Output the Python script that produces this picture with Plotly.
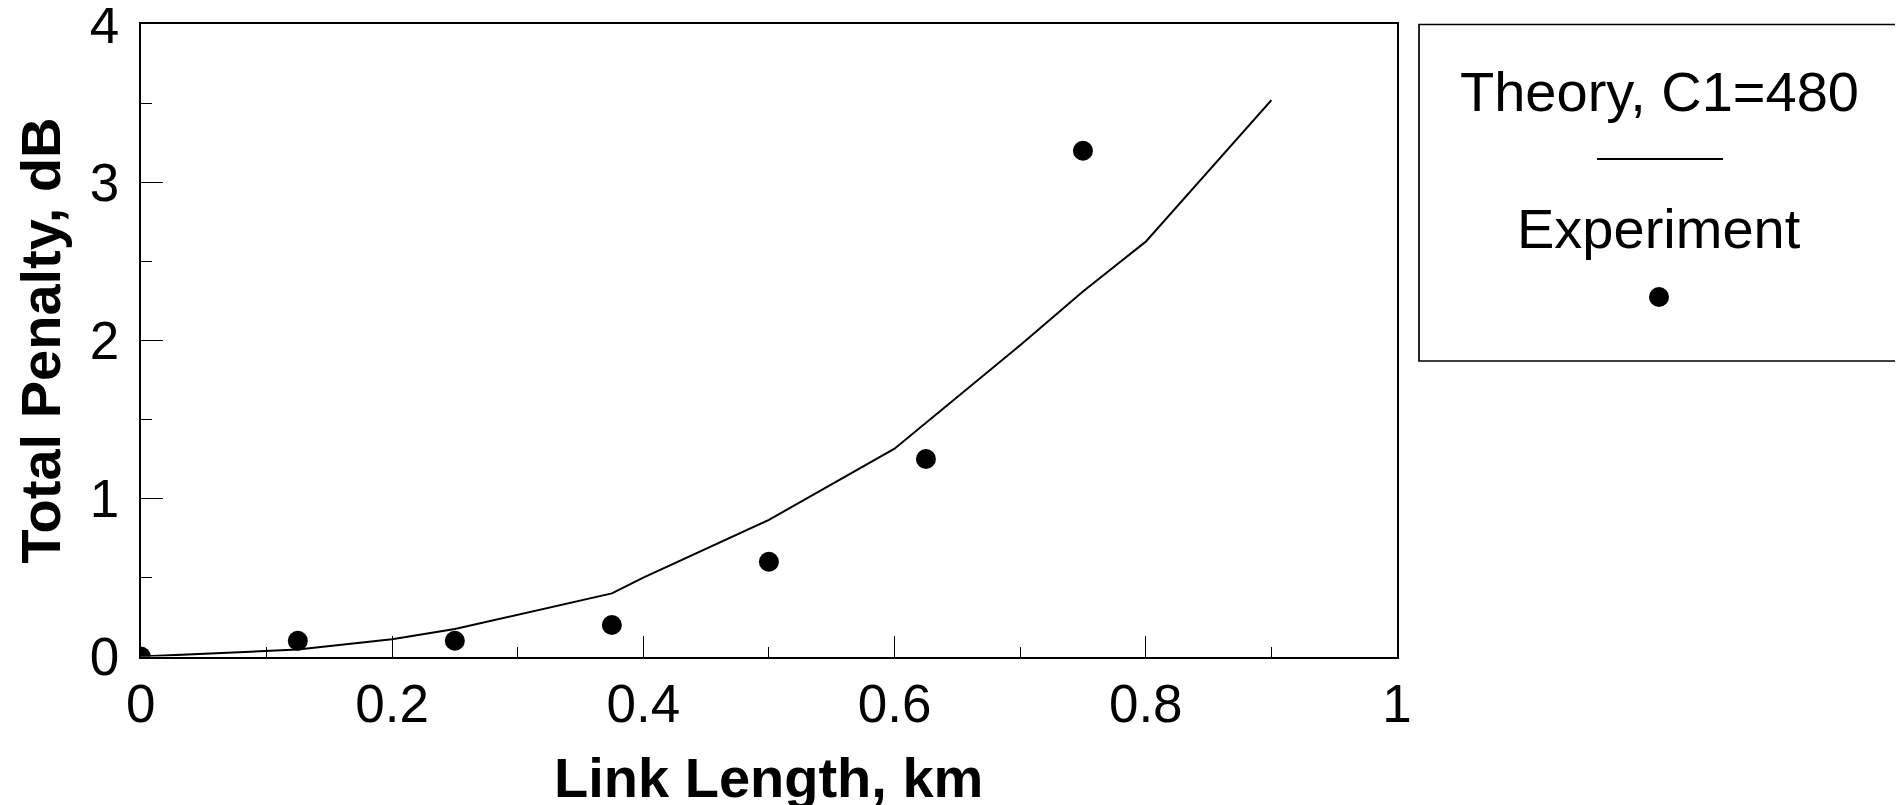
import plotly.graph_objects as go

# ---- data ----
theory_x = [0, 0.125, 0.2, 0.25, 0.375, 0.4, 0.5, 0.6, 0.7, 0.75, 0.8, 0.9]
theory_y = [0, 0.045, 0.11, 0.175, 0.40, 0.50, 0.865, 1.315, 1.97, 2.31, 2.625, 3.52]
exp_x = [0, 0.125, 0.25, 0.375, 0.5, 0.625, 0.75]
exp_y = [0, 0.1, 0.1, 0.2, 0.6, 1.25, 3.2]
x_ticks = [0, 0.2, 0.4, 0.6, 0.8, 1]
x_tick_labels = ["0", "0.2", "0.4", "0.6", "0.8", "1"]
y_ticks = [0, 1, 2, 3, 4]
y_tick_labels = ["0", "1", "2", "3", "4"]
theory_name = "Theory, C1=480"
exp_name = "Experiment"
x_title = "Link Length, km"
y_title = "Total Penalty, dB"

OFF = 8  # default page body margin
W, H = 1903 - OFF, 805 - OFF
FONT = "Liberation Sans, Arial, sans-serif"

def px(x):
    return (x - OFF) / W

def py(y):
    return 1 - (y - OFF) / H

# plot area in page pixels
L, R, T, B = 140.8, 1397.0, 24.3, 656.6

fig = go.Figure()
fig.add_trace(go.Scatter(x=theory_x, y=theory_y, mode="lines",
                         line=dict(color="black", width=2), name=theory_name,
                         showlegend=False))
fig.add_trace(go.Scatter(x=exp_x, y=exp_y, mode="markers",
                         marker=dict(color="black", size=20), name=exp_name,
                         showlegend=False, cliponaxis=True))

axis_common = dict(showline=True, linecolor="black", linewidth=2, mirror=True,
                   showgrid=False, zeroline=False, ticks="inside",
                   tickcolor="black", tickwidth=1, automargin=False,
                   ticklabeloverflow="allow",
                   tickfont=dict(family=FONT, size=53, color="black"))

fig.update_xaxes(range=[0, 1], domain=[px(L), px(R)], tickvals=x_ticks,
                 ticktext=x_tick_labels, ticklen=21,
                 minor=dict(ticks="inside", ticklen=10, dtick=0.1, tick0=0,
                            tickcolor="black", tickwidth=1),
                 **axis_common)
fig.update_yaxes(range=[0, 4], domain=[py(B), py(T)], tickvals=y_ticks,
                 ticktext=y_tick_labels, ticklen=22, ticklabelstandoff=9,
                 minor=dict(ticks="inside", ticklen=11, dtick=0.5, tick0=0,
                            tickcolor="black", tickwidth=1),
                 **axis_common)

annotations = [
    dict(text=f"<b>{x_title}</b>", xref="paper", yref="paper",
         x=px((L + R) / 2), y=py(777), xanchor="center", yanchor="middle",
         showarrow=False, font=dict(family=FONT, size=56, color="black")),
    dict(text=f"<b>{y_title}</b>", xref="paper", yref="paper",
         x=px(40), y=py((T + B) / 2), xanchor="center", yanchor="middle",
         textangle=-90, showarrow=False,
         font=dict(family=FONT, size=56, color="black")),
    dict(text=theory_name, xref="paper", yref="paper",
         x=px(1659), y=py(91), xanchor="center", yanchor="middle",
         showarrow=False, font=dict(family=FONT, size=56, color="black")),
    dict(text=exp_name, xref="paper", yref="paper",
         x=px(1659), y=py(228), xanchor="center", yanchor="middle",
         showarrow=False, font=dict(family=FONT, size=56, color="black")),
]

shapes = [
    # legend box
    dict(type="rect", xref="paper", yref="paper",
         x0=px(1419), x1=px(1899), y0=py(361), y1=py(24.5),
         line=dict(color="black", width=1.7), fillcolor="rgba(0,0,0,0)"),
    # legend line sample
    dict(type="line", xref="paper", yref="paper",
         x0=px(1597), x1=px(1723), y0=py(159), y1=py(159),
         line=dict(color="black", width=2)),
    # legend marker sample
    dict(type="circle", xref="paper", yref="paper",
         xsizemode="pixel", ysizemode="pixel",
         xanchor=px(1659), yanchor=py(297),
         x0=-10, x1=10, y0=-10, y1=10,
         line=dict(color="black", width=0), fillcolor="black"),
]

fig.update_layout(width=W, height=H, margin=dict(l=0, r=0, t=0, b=0),
                  paper_bgcolor="white", plot_bgcolor="white",
                  showlegend=False, annotations=annotations, shapes=shapes,
                  font=dict(family=FONT, color="black"))

fig.write_html("out.html")
